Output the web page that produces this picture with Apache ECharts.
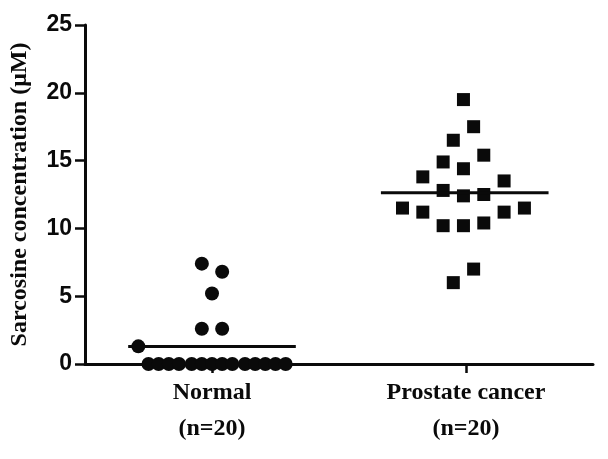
<!DOCTYPE html>
<html>
<head>
<meta charset="utf-8">
<script src="https://cdn.jsdelivr.net/npm/echarts@6/dist/echarts.min.js"></script>
<style>html,body{margin:0;padding:0;background:#fff;}#c{width:608px;height:459px;}</style>
</head>
<body>
<div id="c"></div>
<script>
// ---- data ----
var categories = ['Normal\n(n=20)', 'Prostate cancer\n(n=20)'];
var yTicks = [0, 5, 10, 15, 20, 25];
// Normal group (x = horizontal scatter position inside the group, y = µM)
var normalX = [0.46, 0.54, 0.50, 0.46, 0.54, 0.21,
               0.25, 0.29, 0.33, 0.37, 0.42, 0.46, 0.50, 0.54, 0.58, 0.63, 0.67, 0.71, 0.75, 0.79];
var normalY = [7.4, 6.8, 5.2, 2.6, 2.6, 1.3,
               0, 0, 0, 0, 0, 0, 0, 0, 0, 0, 0, 0, 0, 0];
// Prostate cancer group
var cancerX = [1.49, 1.53, 1.45, 1.57, 1.41, 1.49, 1.33, 1.65, 1.41, 1.49,
               1.57, 1.25, 1.73, 1.33, 1.65, 1.41, 1.49, 1.57, 1.53, 1.45];
var cancerY = [19.5, 17.5, 16.5, 15.4, 14.9, 14.4, 13.8, 13.5, 12.8, 12.4,
               12.5, 11.5, 11.5, 11.2, 11.2, 10.2, 10.2, 10.4, 7.0, 6.0];
var groupCenters = [0.50, 1.495];
var meanHalfWidth = 0.33;

function zip(xs, ys) { return xs.map(function (x, i) { return [x, ys[i]]; }); }
function mean(a) { return a.reduce(function (s, v) { return s + v; }, 0) / a.length; }
function meanLine(c, m) { return [[c - meanHalfWidth, m], [c + meanHalfWidth, m]]; }

var ink = '#0a0a0a';
var chart = echarts.init(document.getElementById('c'));
chart.setOption({
  animation: false,
  grid: { left: 83, right: 15, top: 25, bottom: 95 },
  xAxis: [{
    type: 'category',
    data: categories,
    boundaryGap: true,
    axisLine: { show: true, lineStyle: { color: ink, width: 3 } },
    axisTick: { show: true, alignWithLabel: true, length: 9, lineStyle: { color: ink, width: 2.5 } },
    axisLabel: {
      margin: 11, color: ink, fontFamily: 'Liberation Serif', fontWeight: 'bold',
      fontSize: 24, lineHeight: 36
    },
    splitLine: { show: false }
  }, {
    type: 'value', min: 0, max: 2, show: false
  }],
  yAxis: {
    type: 'value', min: 0, max: 25, interval: 5,
    name: 'Sarcosine concentration (\u03bcM)',
    nameLocation: 'middle', nameGap: 53,
    nameTextStyle: { color: ink, fontFamily: 'Liberation Serif', fontWeight: 'bold', fontSize: 24 },
    axisLine: { show: true, lineStyle: { color: ink, width: 3 } },
    axisTick: { show: true, length: 10, lineStyle: { color: ink, width: 2.5 } },
    axisLabel: {
      margin: 13, color: ink, fontFamily: 'Liberation Sans', fontWeight: 'bold', fontSize: 23,
      formatter: function (v) { return yTicks.indexOf(v) >= 0 ? String(v) : ''; }
    },
    splitLine: { show: false }
  },
  series: [{
    type: 'scatter', xAxisIndex: 1, symbol: 'circle', symbolSize: 14,
    itemStyle: { color: ink, opacity: 1 }, data: zip(normalX, normalY)
  }, {
    type: 'scatter', xAxisIndex: 1, symbol: 'rect', symbolSize: 13,
    itemStyle: { color: ink, opacity: 1 }, data: zip(cancerX, cancerY)
  }, {
    type: 'line', xAxisIndex: 1, symbol: 'none', silent: true,
    lineStyle: { color: ink, width: 3 }, data: meanLine(groupCenters[0], mean(normalY))
  }, {
    type: 'line', xAxisIndex: 1, symbol: 'none', silent: true,
    lineStyle: { color: ink, width: 3 }, data: meanLine(groupCenters[1], mean(cancerY))
  }]
});
</script>
</body>
</html>
